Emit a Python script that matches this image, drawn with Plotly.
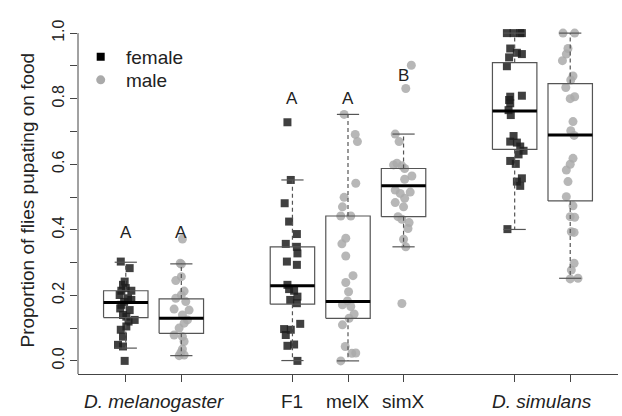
import plotly.graph_objects as go

# ---------------- data ----------------
group_names = ["D. mel female", "D. mel male", "F1", "melX", "simX", "D. sim female", "D. sim male"]
group_pos = [1, 2, 4, 5, 6, 8, 9]
group_sex = ["female", "male", "female", "male", "male", "female", "male"]

# box statistics
box_low = [0.039, 0.016, 0.001, 0.0, 0.348, 0.401, 0.252]
box_q1 = [0.132, 0.084, 0.173, 0.130, 0.440, 0.645, 0.488]
box_med = [0.178, 0.130, 0.229, 0.181, 0.534, 0.762, 0.689]
box_q3 = [0.214, 0.189, 0.348, 0.442, 0.587, 0.910, 0.846]
box_high = [0.301, 0.296, 0.552, 0.752, 0.692, 1.0, 1.0]

group_letters = ["A", "A", "A", "A", "B", "C", "B,C"]
letter_y = [0.393, 0.393, 0.80, 0.80, 0.872, 1.053, 1.053]

# individual points (proportion) and their horizontal jitter
pts_mel_f = [0.303, 0.283, 0.242, 0.232, 0.222, 0.214, 0.214, 0.201, 0.191, 0.186, 0.180,
             0.171, 0.160, 0.155, 0.140, 0.135, 0.125, 0.120, 0.105, 0.095, 0.074, 0.049, 0.044, 0.0]
jit_mel_f = [-0.09, 0.07, -0.02, -0.05, 0.0, -0.08, 0.10, -0.11, 0.04, 0.10, -0.03,
             -0.08, -0.10, 0.07, -0.05, 0.01, 0.16, 0.05, 0.01, -0.09, -0.05, -0.14, -0.05, -0.02]

pts_mel_m = [0.372, 0.298, 0.295, 0.257, 0.245, 0.213, 0.201, 0.191, 0.181, 0.158, 0.155,
             0.140, 0.125, 0.115, 0.100, 0.079, 0.074, 0.059, 0.036, 0.025, 0.018, 0.016]
jit_mel_m = [0.02, -0.02, 0.0, 0.0, -0.10, 0.05, 0.0, -0.10, 0.08, -0.13, 0.14,
             0.02, 0.11, 0.05, -0.04, -0.13, 0.02, 0.05, 0.02, -0.01, 0.05, -0.04]

pts_f1 = [0.728, 0.552, 0.481, 0.425, 0.387, 0.357, 0.348, 0.328, 0.303, 0.293, 0.232, 0.219,
          0.214, 0.196, 0.186, 0.176, 0.113, 0.097, 0.095, 0.079, 0.050, 0.046, 0.0]
jit_f1 = [-0.09, -0.03, -0.14, -0.06, 0.08, -0.12, 0.08, 0.09, -0.10, 0.08, -0.09, -0.06,
          0.03, 0.09, -0.04, 0.08, 0.14, -0.15, -0.03, -0.12, 0.03, -0.09, 0.09]

pts_melx = [0.752, 0.691, 0.669, 0.542, 0.499, 0.470, 0.442, 0.442, 0.374, 0.357, 0.320, 0.260,
            0.239, 0.211, 0.183, 0.171, 0.166, 0.143, 0.130, 0.110, 0.044, 0.023, 0.024, 0.0]
jit_melx = [-0.07, 0.13, 0.17, 0.14, -0.07, -0.10, -0.13, 0.05, -0.04, -0.11, -0.04, 0.09,
            -0.04, 0.01, -0.01, -0.10, 0.05, 0.11, 0.02, -0.10, -0.05, 0.07, 0.14, -0.13]

pts_simx = [0.902, 0.831, 0.692, 0.669, 0.603, 0.595, 0.598, 0.587, 0.564, 0.554, 0.521, 0.511,
            0.515, 0.496, 0.483, 0.470, 0.440, 0.432, 0.422, 0.404, 0.371, 0.348, 0.175]
jit_simx = [0.14, 0.04, -0.15, -0.08, -0.12, -0.03, -0.18, 0.02, 0.15, 0.02, -0.15, -0.06,
            0.12, 0.02, -0.15, 0.0, -0.10, -0.03, 0.10, 0.08, 0.0, 0.04, -0.03]

pts_sim_f = [1.0, 1.0, 1.0, 1.0, 0.953, 0.940, 0.936, 0.926, 0.899, 0.806, 0.809, 0.796, 0.786,
             0.765, 0.750, 0.686, 0.669, 0.666, 0.654, 0.641, 0.630, 0.610, 0.601, 0.557, 0.547,
             0.534, 0.402]
jit_sim_f = [-0.14, -0.02, 0.10, 0.13, -0.08, 0.04, 0.13, -0.10, -0.14, -0.08, 0.13, -0.10, -0.08,
             -0.11, -0.07, -0.02, -0.08, 0.04, 0.10, 0.16, 0.07, -0.08, 0.02, 0.13, 0.04,
             0.10, -0.13]

pts_sim_m = [1.0, 1.0, 0.953, 0.936, 0.916, 0.869, 0.857, 0.834, 0.806, 0.800, 0.730, 0.702,
             0.688, 0.618, 0.600, 0.582, 0.547, 0.501, 0.473, 0.440, 0.438, 0.394, 0.392, 0.298,
             0.277, 0.252, 0.250]
jit_sim_m = [-0.13, 0.08, -0.04, -0.07, -0.14, 0.05, 0.01, -0.08, 0.08, 0.0, 0.05, 0.01,
             0.07, 0.05, 0.0, -0.07, -0.04, -0.07, 0.05, 0.0, 0.08, 0.02, 0.07, 0.07,
             0.02, 0.14, 0.0]

group_points = [pts_mel_f, pts_mel_m, pts_f1, pts_melx, pts_simx, pts_sim_f, pts_sim_m]
group_jitter = [jit_mel_f, jit_mel_m, jit_f1, jit_melx, jit_simx, jit_sim_f, jit_sim_m]

x_labels = ["<i>D. melanogaster</i>", "F1", "melX", "simX", "<i>D. simulans</i>"]
x_label_pos = [1.5, 4, 5, 6, 8.5]

y_ticks = [0.0, 0.1, 0.2, 0.3, 0.4, 0.5, 0.6, 0.7, 0.8, 0.9, 1.0]
y_ticktext = ["0.0", "", "0.2", "", "0.4", "", "0.6", "", "0.8", "", "1.0"]

# ---------------- styling ----------------
FONT = "Liberation Sans, Arial, sans-serif"
TXT = "#222222"
FEMALE_C = "rgba(30,30,30,0.85)"
MALE_C = "rgba(170,170,170,0.85)"
LINE_C = "#555555"
AX_C = "#444444"
BOXW = 0.8
CAPW = 0.4

fig = go.Figure()

# points
for sex, col, sym, size in [("female", FEMALE_C, "square", 8), ("male", MALE_C, "circle", 9)]:
    xs, ys = [], []
    for p, s, pts, jit in zip(group_pos, group_sex, group_points, group_jitter):
        if s != sex:
            continue
        xs += [p + j for j in jit]
        ys += pts
    fig.add_trace(go.Scatter(x=xs, y=ys, mode="markers", name=sex,
                             marker=dict(symbol=sym, size=size, color=col, line=dict(width=0)),
                             showlegend=False, hoverinfo="skip"))

# legend-only traces (two separate legends for exact placement)
fig.add_trace(go.Scatter(x=[None], y=[None], mode="markers", name=" female", legend="legend",
                         marker=dict(symbol="square", size=8, color="#000000")))
fig.add_trace(go.Scatter(x=[None], y=[None], mode="markers", name=" male", legend="legend2",
                         marker=dict(symbol="circle", size=9, color="#aaaaaa")))

# box outlines
bx, by, mx, my, wx, wy, cx, cy = [], [], [], [], [], [], [], []
for p, lo, q1, md, q3, hi in zip(group_pos, box_low, box_q1, box_med, box_q3, box_high):
    a, b = p - BOXW / 2, p + BOXW / 2
    bx += [a, b, b, a, a, None]
    by += [q1, q1, q3, q3, q1, None]
    mx += [a, b, None]
    my += [md, md, None]
    wx += [p, p, None, p, p, None]
    wy += [q3, hi, None, q1, lo, None]
    c1, c2 = p - CAPW / 2, p + CAPW / 2
    cx += [c1, c2, None, c1, c2, None]
    cy += [hi, hi, None, lo, lo, None]

fig.add_trace(go.Scatter(x=wx, y=wy, mode="lines", line=dict(color=LINE_C, width=1.2, dash="4px,3px"),
                         showlegend=False, hoverinfo="skip"))
fig.add_trace(go.Scatter(x=cx, y=cy, mode="lines", line=dict(color=LINE_C, width=1.2),
                         showlegend=False, hoverinfo="skip"))
fig.add_trace(go.Scatter(x=bx, y=by, mode="lines", line=dict(color=LINE_C, width=1.2),
                         showlegend=False, hoverinfo="skip"))
fig.add_trace(go.Scatter(x=mx, y=my, mode="lines", line=dict(color="#000000", width=3),
                         showlegend=False, hoverinfo="skip"))

annotations = []
for p, t, ly in zip(group_pos, group_letters, letter_y):
    annotations.append(dict(x=p, y=ly, xref="x", yref="y", text=t, showarrow=False,
                            font=dict(family=FONT, size=17, color=TXT), xanchor="center", yanchor="middle"))
for t, xp in zip(x_labels, x_label_pos):
    annotations.append(dict(x=xp, y=-0.079, xref="x", yref="paper", text=t, showarrow=False,
                            font=dict(family=FONT, size=19, color=TXT), xanchor="center", yanchor="middle"))
annotations.append(dict(x=-50 / 540, y=0.49, xref="paper", yref="paper",
                        text="Proportion of flies pupating on food", textangle=-90, showarrow=False,
                        font=dict(family=FONT, size=19, color=TXT), xanchor="center", yanchor="middle"))

legend_style = dict(xanchor="left", yanchor="middle", bgcolor="rgba(0,0,0,0)",
                    font=dict(family=FONT, size=19, color=TXT), itemwidth=30)

fig.update_layout(
    width=622, height=416,
    margin=dict(l=78, r=4, t=20, b=42),
    paper_bgcolor="white", plot_bgcolor="white",
    font=dict(family=FONT, color=TXT),
    annotations=annotations,
    shapes=[dict(type="line", xref="paper", yref="y", x0=0, x1=0, y0=-0.04, y1=1.0,
                 line=dict(color=AX_C, width=1))],
    legend=dict(x=0.005, y=(374 - 57) / 354, **legend_style),
    legend2=dict(x=0.005, y=(374 - 80) / 354, **legend_style),
    xaxis=dict(range=[0.14, 9.86], showgrid=False, zeroline=False, showline=True,
               linecolor=AX_C, linewidth=1, ticks="outside", ticklen=7, tickcolor=AX_C,
               tickvals=group_pos, ticktext=[""] * len(group_pos)),
    yaxis=dict(range=[-0.04, 1.04], showgrid=False, zeroline=False, showline=False,
               ticks="outside", ticklen=7, tickcolor=AX_C,
               tickvals=y_ticks, ticktext=y_ticktext, tickangle=-90,
               tickfont=dict(family=FONT, size=16, color=TXT)),
)

fig.write_html("out.html")
